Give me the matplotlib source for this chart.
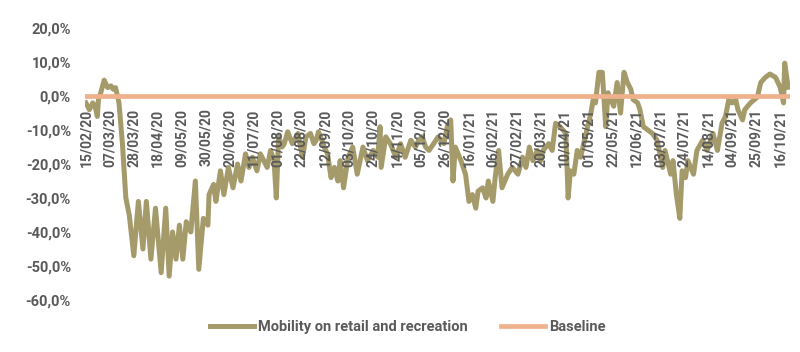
import numpy as np
import matplotlib
matplotlib.use("Agg")
import matplotlib.pyplot as plt

plt.rcParams['font.family'] = ['Roboto', 'DejaVu Sans']

start_date = np.datetime64('2020-02-15')

# day offsets from 15/02/2020 and mobility values (%)
day_offsets = [0, 3, 6, 8, 10, 11, 13, 16, 19, 22, 24, 26, 29, 32, 35, 38, 42, 46, 50, 53, 57,
               61, 66, 70, 73, 76, 79, 82, 85, 88, 92, 96, 99, 103, 107, 108, 112, 114, 118, 121,
               125, 129, 133, 136, 140, 143, 146, 150, 153, 156, 159, 162, 165, 167, 169, 172, 174,
               177, 181, 186, 190, 193, 197, 200, 202, 204, 207, 209, 212, 215, 218, 221, 223, 226,
               230, 234, 238, 243, 247, 252, 256, 258, 259, 263, 267, 272, 276, 280, 285, 289, 292,
               295, 298, 301, 305, 309, 314, 317, 320, 322, 324, 329, 333, 336, 339, 342, 344, 348,
               351, 353, 357, 359, 362, 365, 370, 374, 379, 383, 386, 389, 392, 396, 399, 401, 406,
               409, 412, 416, 421, 423, 425, 428, 431, 434, 438, 443, 445, 447, 450, 453, 456, 458,
               463, 466, 469, 472, 475, 478, 480, 484, 486, 489, 493, 497, 501, 506, 508, 513, 515,
               518, 521, 523, 526, 528, 533, 536, 541, 545, 550, 554, 558, 561, 564, 567, 570, 572,
               576, 578, 583, 589, 592, 596, 600, 605, 609, 612, 613, 616]
mobility = [-2, -4, -2, -3, -6, -1, 1, 4.7, 2.5, 3, 2, 2.5, -2, -14, -30, -35, -47, -31, -45, -31, -48,
            -33, -52, -33, -53, -40, -48, -38, -48, -37, -40, -25, -51, -36, -38, -29, -26, -31, -22, -29,
            -21, -27, -20, -25, -17, -21, -18, -22, -17, -19, -21, -16, -19, -30, -12, -15, -14,
            -10.5, -14, -11, -18, -12, -11, -14, -13, -10.5, -13, -15, -17, -24, -21, -25, -19, -27,
            -18, -15, -23, -15, -19, -16, -18, -9, -21, -12, -14, -18, -14, -18, -13, -15, -13,
            -12, -15, -16, -14, -12, -14, -9, -7, -25, -15, -19, -23, -31, -29, -33, -28, -27,
            -30, -25, -31, -24, -16, -27, -23, -21, -23, -18, -21, -15, -19, -16, -19, -16, -14,
            -16, -8, -9, -11, -30, -22, -23, -16, -18, -12, -5, -1, -2, 7, 7, -9, 1,
            -3, 4, -5, 7, 4, 2, -1, -2, -4, -9, -10, -11, -13, -21, -16, -23, -19,
            -29, -36, -22, -24, -19, -23, -16, -13, -16, -11, -16, -8, -6, -1, -2, -1, -4,
            -7, -4, -2, -0.3, 4, 5.5, 6.5, 5.5, 2.6, -2, 9.7, 2.6]

tick_labels = ['15/02/20', '07/03/20', '28/03/20', '18/04/20', '09/05/20', '30/05/20', '20/06/20',
               '11/07/20', '01/08/20', '22/08/20', '12/09/20', '03/10/20', '24/10/20', '14/11/20',
               '05/12/20', '26/12/20', '16/01/21', '06/02/21', '27/02/21', '20/03/21', '10/04/21',
               '01/05/21', '22/05/21', '12/06/21', '03/07/21', '24/07/21', '14/08/21', '04/09/21',
               '25/09/21', '16/10/21']
y_ticks = [20, 10, 0, -10, -20, -30, -40, -50, -60]

series_name = 'Mobility on retail and recreation'
baseline_name = 'Baseline'

dates = start_date + np.array(day_offsets).astype('timedelta64[D]')
tick_dates = [np.datetime64('20' + t[6:8] + '-' + t[3:5] + '-' + t[0:2]) for t in tick_labels]

fig = plt.figure(figsize=(8, 3.52), dpi=100)
ax = fig.add_axes([0.106, 0.148, 0.882, 0.772])

text_color = '#5a5a5a'
ax.plot(dates, mobility, color='#A59A6A', lw=3.6, solid_joinstyle='round', label=series_name, zorder=2)
ax.plot([dates[0], dates[-1]], [0, 0], color='#EFB08C', lw=3.4, label=baseline_name, zorder=3)

ax.set_ylim(-60, 20)
ax.set_xlim(start_date - np.timedelta64(1, 'D'), start_date + np.timedelta64(618, 'D'))
ax.set_yticks(y_ticks)
ax.set_yticklabels([f'{v:.1f}%'.replace('.', ',') for v in y_ticks])

ax.set_xticks(tick_dates)
ax.set_xticklabels(tick_labels)
ax.xaxis.set_zorder(5)

for s in ['top', 'right', 'left']:
    ax.spines[s].set_visible(False)
ax.spines['bottom'].set_position(('data', 0))
ax.spines['bottom'].set_visible(False)
ax.tick_params(axis='x', length=0, pad=9, labelsize=10, labelcolor=text_color, labelrotation=90)
ax.tick_params(axis='y', length=0, pad=10, labelsize=10.5, labelcolor=text_color)
for lbl in ax.get_xticklabels():
    lbl.set_fontweight('bold')
    lbl.set_verticalalignment('top')
    lbl.set_horizontalalignment('center')
for lbl in ax.get_yticklabels():
    lbl.set_fontweight('bold')

leg = fig.legend(loc='center', bbox_to_anchor=(0.51, 0.072), ncol=2, frameon=False,
                 handlelength=3.0, columnspacing=2.3, handletextpad=0.3,
                 prop={'weight': 'bold', 'size': 10.5})
for t in leg.get_texts():
    t.set_color(text_color)

fig.savefig('out.png', dpi=100)
